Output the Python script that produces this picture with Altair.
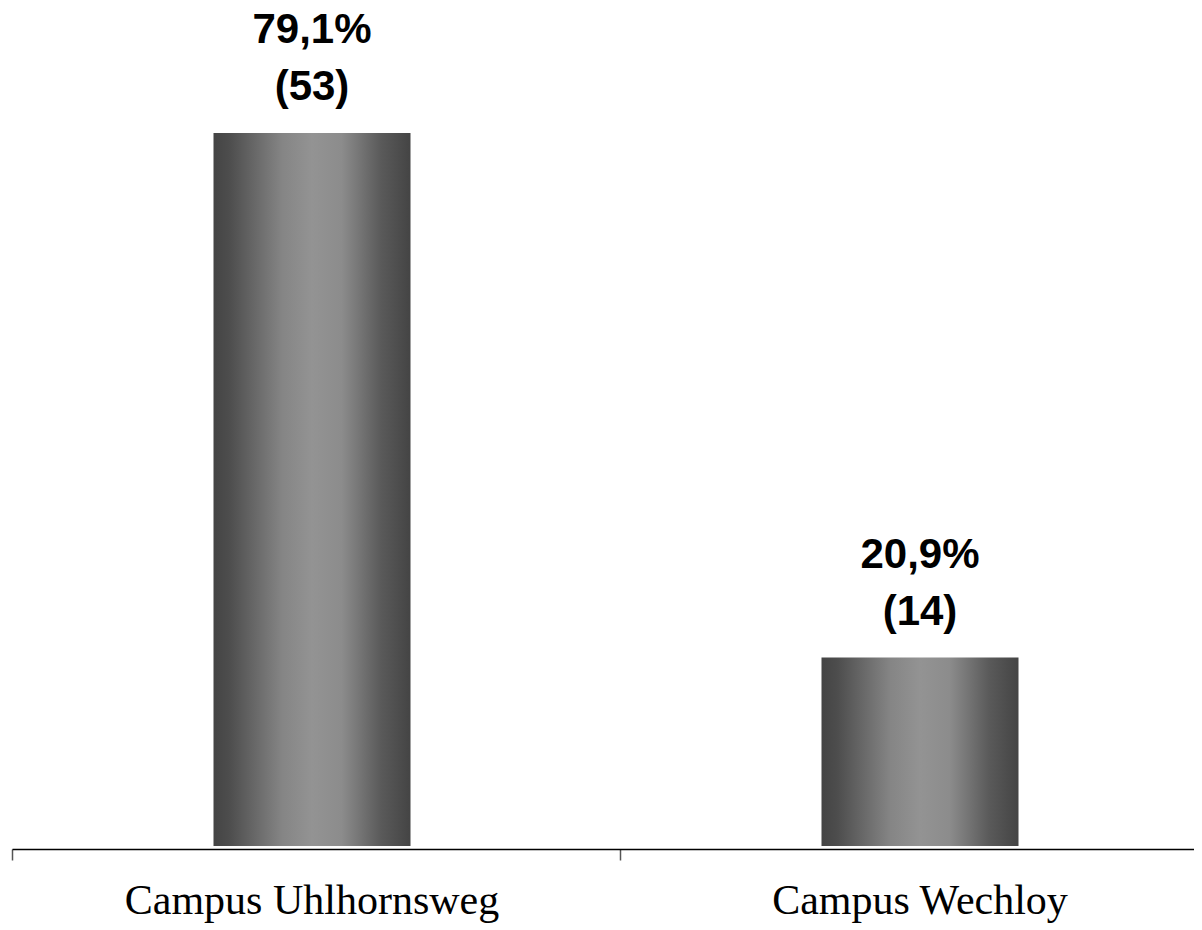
import altair as alt
import pandas as pd

categories = ["Campus Uhlhornsweg", "Campus Wechloy"]
percents = [79.1, 20.9]
counts = [53, 14]

df = pd.DataFrame({
    "campus": categories,
    "pct": percents,
    "n": counts,
})
df["pct_label"] = [f"{p:.1f}%".replace(".", ",") for p in percents]
df["n_label"] = [f"({n})" for n in counts]

grad = alt.Gradient(
    gradient="linear",
    x1=0, x2=1, y1=0, y2=0,
    stops=[
        alt.GradientStop(offset=0.0, color="#444444"),
        alt.GradientStop(offset=0.08, color="#4d4d4d"),
        alt.GradientStop(offset=0.35, color="#858585"),
        alt.GradientStop(offset=0.5, color="#939393"),
        alt.GradientStop(offset=0.65, color="#8c8c8c"),
        alt.GradientStop(offset=0.85, color="#5a5a5a"),
        alt.GradientStop(offset=1.0, color="#444444"),
    ],
)

x_enc = alt.X(
    "campus:N",
    sort=categories,
    scale=alt.Scale(range=[0, 1216], paddingInner=0, paddingOuter=0),
    axis=alt.Axis(
        title=None,
        labelAngle=0,
        labelFont="Liberation Serif",
        labelFontSize=42,
        labelColor="black",
        labelPadding=20,
        labelBaseline="top",
        labelLimit=0,
        labelOffset=-4,
        domainColor="black",
        domainWidth=1.5,
        tickColor="#555555",
        tickSize=11,
        tickWidth=1.5,
        bandPosition=0,
        offset=3,
    ),
)
y_enc = alt.Y(
    "pct:Q",
    scale=alt.Scale(domain=[0, 92.97], nice=False, zero=True),
    axis=None,
)

base = alt.Chart(df).encode(x=x_enc, y=y_enc)

bars = base.mark_bar(size=197, color=grad, xOffset=-4)

pct_text = base.mark_text(
    font="Liberation Sans", fontSize=42, fontWeight="bold",
    color="black", baseline="alphabetic", dy=-90, dx=-4,
).encode(text="pct_label:N")

n_text = base.mark_text(
    font="Liberation Sans", fontSize=42, fontWeight="bold",
    color="black", baseline="alphabetic", dy=-33, dx=-4,
).encode(text="n_label:N")

chart = (
    alt.layer(bars, pct_text, n_text)
    .properties(
        width=1182,
        height=838,
        autosize=alt.AutoSizeParams(type="none"),
        padding={"left": 4, "top": 0, "right": 0, "bottom": 80},
        background="white",
    )
    .configure_view(strokeWidth=0, stroke="transparent")
)

chart.save("out.html", embed_options={"renderer": "svg", "actions": False})
